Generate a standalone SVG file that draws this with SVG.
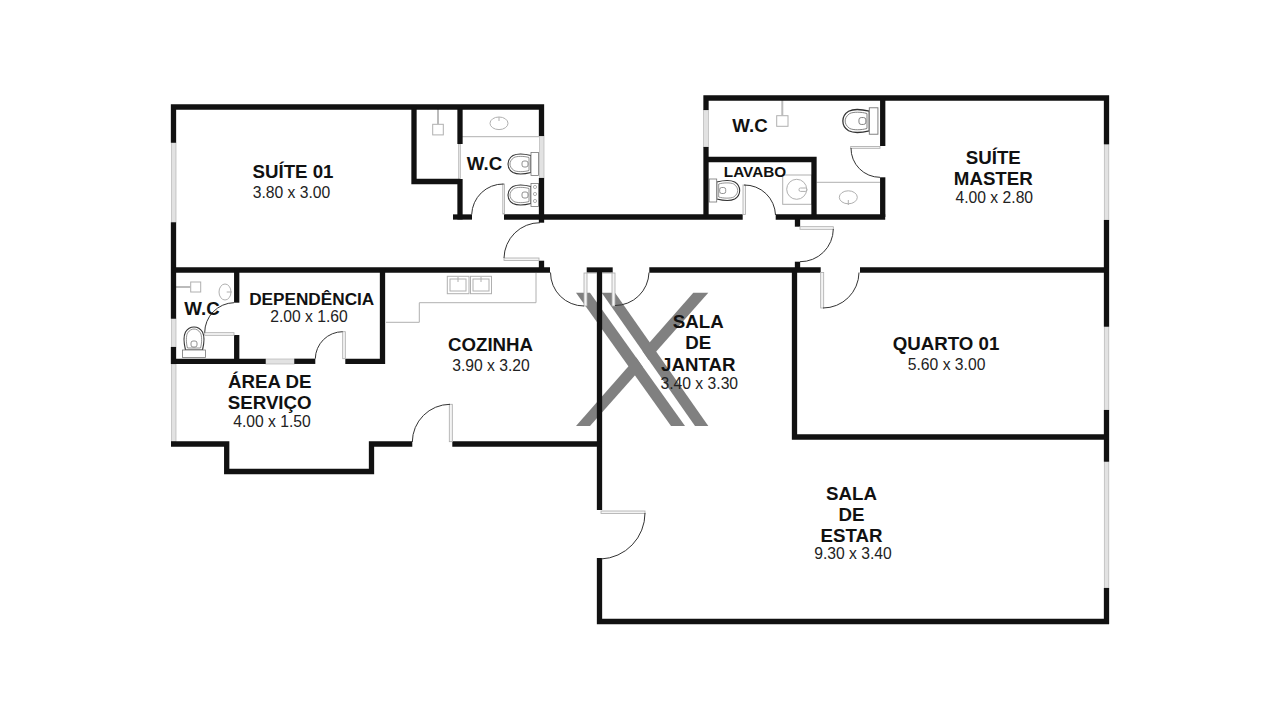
<svg xmlns="http://www.w3.org/2000/svg" xmlns:xlink="http://www.w3.org/1999/xlink" width="1280" height="720" viewBox="0 0 1280 720">
<style>
.wall{fill:none;stroke:#111;stroke-width:5.3;stroke-linejoin:miter}
.win{fill:#e2e2e2;stroke:#b5b5b5;stroke-width:.7}
.leaf{fill:#f4f4f4;stroke:#aaa;stroke-width:.8}
.arc{fill:none;stroke:#333;stroke-width:1}
.fx{fill:none;stroke:#b0b0b0;stroke-width:1}
.pipe{fill:none;stroke:#bbb;stroke-width:2}
.ts{fill:#fff;stroke:#333;stroke-width:1.1}
.tt{fill:#fff;stroke:#777;stroke-width:.8}
text{font-family:"Liberation Sans",Arial,sans-serif;fill:#111;text-anchor:middle}
.t{font-weight:bold;font-size:18.7px}
.d{font-size:15.7px;fill:#222}
</style>
<defs>
<g id="toilet">
<path class="ts" d="M0,-8.5 C-6,-10 -14,-10.5 -18,-8.5 C-22,-6 -23,-3 -23,0 C-23,3 -22,6 -18,8.5 C-14,10.5 -6,10 0,8.5Z"/>
<path class="tt" d="M-2,-6.5 C-7,-8 -14,-8 -17,-6.5 C-20,-4.5 -21,-2 -21,0 C-21,2 -20,4.5 -17,6.5 C-14,8 -7,8 -2,6.5Z"/>
<rect class="tt" x="-9" y="-3" width="6" height="6" rx="2"/>
<rect class="tt" x="0" y="-11.5" width="7.5" height="23"/>
</g>
</defs>
<rect width="1280" height="720" fill="#fff"/>
<g id="watermark" fill="#808080">
<polygon points="576,292.7 590,292.7 685,426 671,426"/>
<polygon points="601.7,292.7 615,292.7 708.3,426 695,426"/>
<polygon points="576,426 590,426 642.6,366.7 636.2,357.6"/>
<polygon points="693.3,292.7 708.3,292.7 648.7,359.9 642.3,350.7"/>
</g>
<g id="fixtures">
<path class="fx" d="M462,136.7 H539"/>
<ellipse class="fx" cx="499" cy="123.3" rx="9" ry="6.3"/>
<path class="fx" d="M499,117 V121"/>
<rect class="fx" x="432.7" y="124.3" width="10.6" height="10.6"/>
<path class="pipe" d="M438,109 V124"/>
<use xlink:href="#toilet" href="#toilet" transform="translate(531,164)"/>
<use xlink:href="#toilet" href="#toilet" transform="translate(531,195)"/>
<circle class="fx" cx="535" cy="187" r="1.6"/><circle class="fx" cx="535" cy="194" r="1.6"/><circle class="fx" cx="535" cy="201" r="1.6"/>
<rect class="fx" x="776.7" y="115.7" width="11.3" height="10.6"/>
<path class="pipe" d="M782.3,100 V116"/>
<use xlink:href="#toilet" href="#toilet" transform="translate(869.3,121) scale(1.15)"/>
<path class="fx" d="M816.7,182.3 H880"/>
<ellipse class="fx" cx="848.3" cy="197.3" rx="9" ry="6.5"/>
<path class="fx" d="M848.3,200 V205"/>
<rect class="fx" x="782.7" y="175" width="29" height="29.3"/>
<circle class="fx" cx="796.7" cy="189.3" r="10"/>
<rect class="fx" x="799" y="188" width="8" height="3.4" rx="1.5"/>
<use xlink:href="#toilet" href="#toilet" transform="translate(716.7,190.5) scale(-1,1)"/>
<ellipse class="fx" cx="225" cy="292" rx="6" ry="8"/>
<path class="fx" d="M226.7,292 H231.7"/>
<rect class="fx" x="190.7" y="282" width="10" height="10"/>
<path class="pipe" d="M176,287 H190.7"/>
<use xlink:href="#toilet" href="#toilet" transform="translate(194,350) rotate(90)"/>
<path class="fx" d="M536,273 V302.7 H419.3 V322.3 H386"/>
<rect class="fx" x="447.3" y="276.3" width="21.7" height="17.4"/>
<rect class="fx" x="450" y="279" width="16" height="12"/>
<rect class="fx" x="470.5" y="276.3" width="21" height="17.4"/>
<rect class="fx" x="473" y="279" width="16" height="12"/>
<path class="fx" d="M458,277 V282 M481,277 V282"/>
</g>
<g id="windows">
<rect class="win" x="171.5" y="142.7" width="4.5" height="79.6"/>
<rect class="win" x="171.5" y="318.7" width="4.5" height="28.3"/>
<rect class="win" x="171.5" y="364" width="4.5" height="77.7"/>
<rect class="win" x="458.6" y="144" width="2" height="37.5"/>
<rect class="win" x="539.5" y="136" width="4.5" height="42"/>
<rect class="win" x="703.5" y="110" width="5" height="37"/>
<rect class="win" x="1104.3" y="144.3" width="4.5" height="75.7"/>
<rect class="win" x="1104.3" y="326.7" width="4.5" height="83.3"/>
<rect class="win" x="1104.3" y="461.7" width="4.5" height="126.3"/>
<rect class="win" x="265.7" y="359" width="28.6" height="5"/>
</g>
<g id="walls">
<path class="wall" d="M173.5,142.7 V107 H541.5 V136"/>
<path class="wall" d="M173.5,222.3 V318.7"/>
<path class="wall" d="M171,270 H550"/>
<path class="wall" d="M414,107 V181.5 H460"/>
<path class="wall" d="M460,107 V144"/>
<path class="wall" d="M460,179 V219.5"/>
<path class="wall" d="M453,217 H472"/>
<path class="wall" d="M504,217 H742.7"/>
<path class="wall" d="M775.7,217 H885.2"/>
<path class="wall" d="M541.5,178 V222.7"/>
<path class="wall" d="M541.5,260.7 V268"/>
<path class="wall" d="M706,147 V219"/>
<path class="wall" d="M706,110 V98 H1106.5 V144.3"/>
<path class="wall" d="M1106.5,220 V326.7"/>
<path class="wall" d="M1106.5,410 V461.7"/>
<path class="wall" d="M1106.5,588 V624"/>
<path class="wall" d="M882.7,98 V146"/>
<path class="wall" d="M882.7,177.3 V217"/>
<path class="wall" d="M706,159.5 H814 V217"/>
<path class="wall" d="M797.5,217 V226.7"/>
<path class="wall" d="M797.5,261.7 V270"/>
<path class="wall" d="M586.7,270 H612.7"/>
<path class="wall" d="M649.3,270 H820.7"/>
<path class="wall" d="M860,270 H1109"/>
<path class="wall" d="M794.5,270 V437 H1109"/>
<path class="wall" d="M599.5,268 V510"/>
<path class="wall" d="M599.5,558 V621.5 H1109"/>
<path class="wall" d="M171,444 H226.7 V471.5 H371.5 V444 H412.3"/>
<path class="wall" d="M452.3,444 H602"/>
<path class="wall" d="M382.5,268 V361.3 H345.3"/>
<path class="wall" d="M315.3,361.3 H294.3"/>
<path class="wall" d="M265.7,361.3 H171"/>
<path class="wall" d="M173.5,347 V364"/>
<path class="wall" d="M236.7,268 V302.7"/>
<path class="wall" d="M236.7,335 V361"/>
</g>
<g id="doors">
<rect class="leaf" x="502.8" y="184" width="1.6" height="30"/>
<path class="arc" d="M471.7,214.5 A31.5,31.5 0 0 1 503.5,184"/>
<rect class="leaf" x="504" y="258" width="35" height="2.4"/>
<path class="arc" d="M540,222.7 A36,36 0 0 0 504,258"/>
<rect class="leaf" x="850.7" y="146.5" width="29.3" height="1.8"/>
<path class="arc" d="M851,148 A29,29 0 0 0 880,177.3"/>
<rect class="leaf" x="743" y="185" width="2.6" height="29.5"/>
<path class="arc" d="M744,185 A31,31 0 0 1 775.5,215"/>
<rect class="leaf" x="800" y="226.7" width="33.3" height="2.6"/>
<path class="arc" d="M833.3,229 A33,33 0 0 1 800,261.7"/>
<rect class="leaf" x="820.7" y="272.5" width="3" height="35.5"/>
<path class="arc" d="M823,308 A36,36 0 0 0 859,272.5"/>
<rect class="leaf" x="584" y="273" width="3" height="33"/>
<path class="arc" d="M550.5,272.5 A33.5,33.5 0 0 0 584,306"/>
<rect class="leaf" x="612" y="273" width="3" height="33"/>
<path class="arc" d="M615,305.5 A34,34 0 0 0 649,272.5"/>
<path class="fx" d="M587,273 H597 M602,273 H612"/>
<rect class="leaf" x="449.3" y="404.3" width="3" height="37.4"/>
<path class="arc" d="M412.3,442 A38,38 0 0 1 450,404.3"/>
<rect class="leaf" x="601" y="511" width="44" height="2.6"/>
<path class="arc" d="M645,513 A46,46 0 0 1 601,559"/>
<rect class="leaf" x="342.7" y="331.7" width="2.6" height="27"/>
<path class="arc" d="M315.3,358.7 A27.5,27.5 0 0 1 342.7,331.7"/>
<rect class="leaf" x="204.7" y="332.7" width="29.3" height="2.6"/>
<path class="arc" d="M234,302.7 A30,30 0 0 0 204.7,332.7"/>
</g>
<g id="room-suite-01"><text class="t" x="293" y="177.7">SUÍTE 01</text><text class="d" x="291.5" y="198.3">3.80 x 3.00</text></g>
<g id="room-wc-suite"><text class="t" x="484.5" y="170">W.C</text></g>
<g id="room-wc-master"><text class="t" x="750" y="132.2">W.C</text></g>
<g id="room-lavabo"><text class="t" x="755" y="176.8" style="font-size:15.3px">LAVABO</text></g>
<g id="room-suite-master"><text class="t" x="993.3" y="163.5">SUÍTE</text><text class="t" x="993.3" y="184.5">MASTER</text><text class="d" x="994.3" y="202.8">4.00 x 2.80</text></g>
<g id="room-quarto-01"><text class="t" x="946" y="349.7">QUARTO 01</text><text class="d" x="946.6" y="370.2">5.60 x 3.00</text></g>
<g id="room-wc-dep"><text class="t" x="202" y="314.7">W.C</text></g>
<g id="room-dependencia"><text class="t" x="311.7" y="304.7" style="font-size:17.2px">DEPENDÊNCIA</text><text class="d" x="309" y="321.5">2.00 x 1.60</text></g>
<g id="room-area-servico"><text class="t" x="269.7" y="388.3">ÁREA DE</text><text class="t" x="269.7" y="409.3">SERVIÇO</text><text class="d" x="272" y="426.7">4.00 x 1.50</text></g>
<g id="room-cozinha"><text class="t" x="490.5" y="351">COZINHA</text><text class="d" x="491" y="370.5">3.90 x 3.20</text></g>
<g id="room-sala-jantar"><text class="t" x="698.3" y="328">SALA</text><text class="t" x="698.3" y="349">DE</text><text class="t" x="698.3" y="370.5">JANTAR</text><text class="d" x="699.3" y="389.3">3.40 x 3.30</text></g>
<g id="room-sala-estar"><text class="t" x="851.5" y="499.5">SALA</text><text class="t" x="851.5" y="520.5">DE</text><text class="t" x="851.5" y="542">ESTAR</text><text class="d" x="853" y="559">9.30 x 3.40</text></g>
</svg>
